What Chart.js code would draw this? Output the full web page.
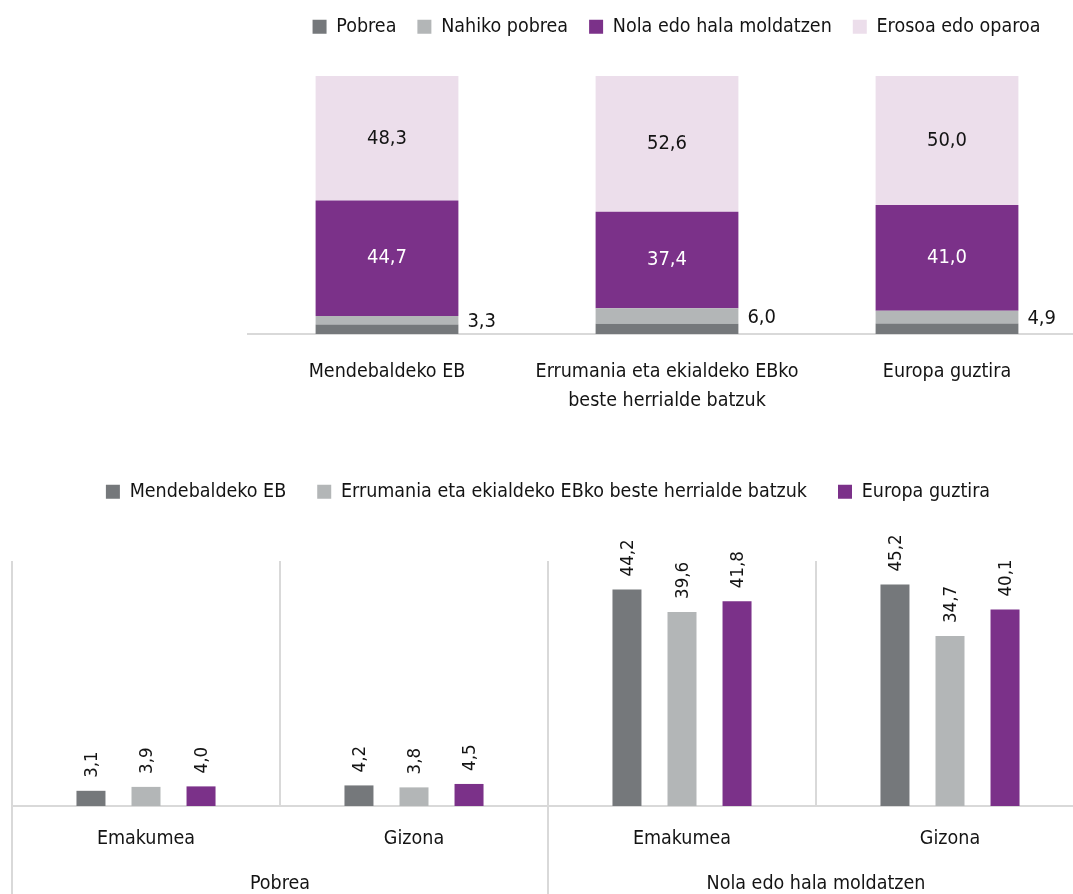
<!DOCTYPE html>
<html><head><meta charset="utf-8">
<script src="https://cdn.jsdelivr.net/npm/chart.js@4/dist/chart.umd.min.js"></script>
<style>
html,body{margin:0;padding:0;background:#fff;overflow:hidden;width:1073px;height:894px;position:relative;}
#top{position:absolute;left:247px;top:-4px;width:859px;height:420px;}
#bot{position:absolute;left:0;top:451px;width:1096px;height:445px;}
</style></head><body>
<div id="top"><canvas id="c1"></canvas></div>
<div id="bot"><canvas id="c2"></canvas></div>
<script>
// ---- data: top chart ----
const regionLabels = [['Mendebaldeko EB'], ['Errumania eta ekialdeko EBko', 'beste herrialde batzuk'], ['Europa guztira']];
const statusNames = ['Pobrea', 'Nahiko pobrea', 'Nola edo hala moldatzen', 'Erosoa edo oparoa'];
const pobrea = [3.7, 4.0, 4.1];
const nahikoPobrea = [3.3, 6.0, 4.9];
const nolaEdoHala = [44.7, 37.4, 41.0];
const erosoaEdoOparoa = [48.3, 52.6, 50.0];

// ---- data: bottom chart ----
const seriesNames = ['Mendebaldeko EB', 'Errumania eta ekialdeko EBko beste herrialde batzuk', 'Europa guztira'];
const sexLabels = ['Emakumea', 'Gizona', 'Emakumea', 'Gizona'];
const groupLabels = ['Pobrea', 'Nola edo hala moldatzen'];
const mendebaldekoEB = [3.1, 4.2, 44.2, 45.2];
const errumaniaEtaBeste = [3.9, 3.8, 39.6, 34.7];
const europaGuztira = [4.0, 4.5, 41.8, 40.1];

const FONT = "'Liberation Sans Narrow','Arial Narrow','DejaVu Sans Condensed',sans-serif";
const TXT = '#141414';
const C_DARK = '#75787b', C_LIGHT = '#b3b6b7', C_PURPLE = '#7b3189', C_PINK = '#ecdeeb';
const GRID = '#d9d9d9';
const FS = 19.5;

Chart.defaults.font.family = FONT;
Chart.defaults.color = TXT;
Chart.defaults.animation = false;

const fmt = v => v.toFixed(1).replace('.', ',');

const legendHeight = {
  id: 'legendHeight',
  afterInit(chart, args, opts) {
    const lg = chart.legend;
    const fit = lg.fit;
    lg.fit = function () { fit.call(this); this.height = opts.height; };
  }
};

// top chart labels
const stackLabels = {
  id: 'stackLabels',
  afterDatasetsDraw(chart) {
    const ctx = chart.ctx;
    ctx.save();
    ctx.font = '20px ' + FONT;
    ctx.textBaseline = 'middle';
    chart.data.datasets.forEach((ds, i) => {
      const meta = chart.getDatasetMeta(i);
      meta.data.forEach((bar, j) => {
        const v = ds.data[j];
        const cy = (bar.y + bar.base) / 2;
        if (i === 1) {
          ctx.fillStyle = TXT; ctx.textAlign = 'left';
          ctx.fillText(fmt(v), bar.x + bar.width / 2 + 9, cy + 1.5);
        } else if (i === 2) {
          ctx.fillStyle = '#ffffff'; ctx.textAlign = 'center';
          ctx.fillText(fmt(v), bar.x, cy);
        } else if (i === 3) {
          ctx.fillStyle = TXT; ctx.textAlign = 'center';
          ctx.fillText(fmt(v), bar.x, cy);
        }
      });
    });
    ctx.restore();
  }
};

new Chart(document.getElementById('c1'), {
  type: 'bar',
  data: {
    labels: regionLabels,
    datasets: [
      { label: statusNames[0], data: pobrea, backgroundColor: C_DARK },
      { label: statusNames[1], data: nahikoPobrea, backgroundColor: C_LIGHT },
      { label: statusNames[2], data: nolaEdoHala, backgroundColor: C_PURPLE },
      { label: statusNames[3], data: erosoaEdoOparoa, backgroundColor: C_PINK }
    ]
  },
  options: {
    responsive: true,
    maintainAspectRatio: false,
    datasets: { bar: { categoryPercentage: 1, barPercentage: 0.51, borderWidth: 0 } },
    layout: { padding: 0 },
    plugins: {
      legend: {
        position: 'top',
        labels: { boxWidth: 14, boxHeight: 14, padding: 21, font: { size: FS }, color: TXT }
      },
      legendHeight: { height: 80 },
      tooltip: { enabled: false }
    },
    scales: {
      x: {
        stacked: true,
        grid: { display: false, drawTicks: false },
        border: { display: true, color: GRID, width: 2 },
        ticks: { font: { size: FS, lineHeight: 1.48 }, padding: 24, maxRotation: 0, autoSkip: false, color: TXT },
        afterFit(s) { s.height = 82; }
      },
      y: { stacked: true, min: 0, max: 100, display: false },
      yPad: {
        type: 'linear', position: 'right', display: true,
        grid: { display: false }, border: { display: false }, ticks: { display: false },
        afterFit(s) { s.width = 19; }
      }
    }
  },
  plugins: [legendHeight, stackLabels]
});

// bottom chart labels + group separators
const barLabels = {
  id: 'barLabels',
  afterDatasetsDraw(chart) {
    const ctx = chart.ctx;
    ctx.save();
    ctx.font = '18.5px ' + FONT;
    ctx.fillStyle = TXT;
    ctx.textAlign = 'left';
    ctx.textBaseline = 'middle';
    chart.data.datasets.forEach((ds, i) => {
      chart.getDatasetMeta(i).data.forEach((bar, j) => {
        ctx.save();
        ctx.translate(bar.x + 1, bar.y - 13);
        ctx.rotate(-Math.PI / 2);
        ctx.fillText(fmt(ds.data[j]), 0, 0);
        ctx.restore();
      });
    });
    ctx.restore();
  },
  afterDraw(chart) {
    const x = chart.scales.x, x2 = chart.scales.x2;
    const n = x2.getLabels().length;
    const half = (x2.getPixelForValue(1) - x2.getPixelForValue(0)) / 2;
    const ctx = chart.ctx;
    ctx.save();
    ctx.strokeStyle = GRID;
    ctx.lineWidth = 2;
    for (let i = 0; i <= n; i++) {
      const px = (i < n ? x2.getPixelForValue(i) - half : x2.getPixelForValue(n - 1) + half);
      ctx.beginPath();
      ctx.moveTo(px, x.top);
      ctx.lineTo(px, chart.height);
      ctx.stroke();
    }
    ctx.restore();
  }
};

new Chart(document.getElementById('c2'), {
  type: 'bar',
  data: {
    labels: sexLabels,
    datasets: [
      { label: seriesNames[0], data: mendebaldekoEB, backgroundColor: C_DARK },
      { label: seriesNames[1], data: errumaniaEtaBeste, backgroundColor: C_LIGHT },
      { label: seriesNames[2], data: europaGuztira, backgroundColor: C_PURPLE }
    ]
  },
  options: {
    responsive: true,
    maintainAspectRatio: false,
    datasets: { bar: { categoryPercentage: 0.616, barPercentage: 0.527, borderWidth: 0 } },
    layout: { padding: { left: 12, right: 12, top: 0, bottom: 0 } },
    plugins: {
      legend: {
        position: 'top',
        labels: { boxWidth: 14, boxHeight: 14, padding: 31, font: { size: FS }, color: TXT }
      },
      legendHeight: { height: 110 },
      tooltip: { enabled: false }
    },
    scales: {
      x: {
        weight: 0,
        offset: true,
        grid: { display: true, color: GRID, lineWidth: 2, drawTicks: false, offset: true },
        border: { display: true, color: GRID, width: 2 },
        ticks: { font: { size: FS, lineHeight: 1.2 }, padding: 21, maxRotation: 0, autoSkip: false, color: TXT },
        afterFit(s) { s.height = 45; }
      },
      x2: {
        type: 'category',
        labels: groupLabels,
        position: 'bottom',
        weight: 1,
        offset: true,
        grid: { display: false, drawTicks: false },
        border: { display: false },
        ticks: { font: { size: FS, lineHeight: 1.2 }, padding: 21, maxRotation: 0, autoSkip: false, color: TXT },
        afterFit(s) { s.height = 45; }
      },
      y: { min: 0, max: 50, display: false }
    }
  },
  plugins: [legendHeight, barLabels]
});
</script>
</body></html>
